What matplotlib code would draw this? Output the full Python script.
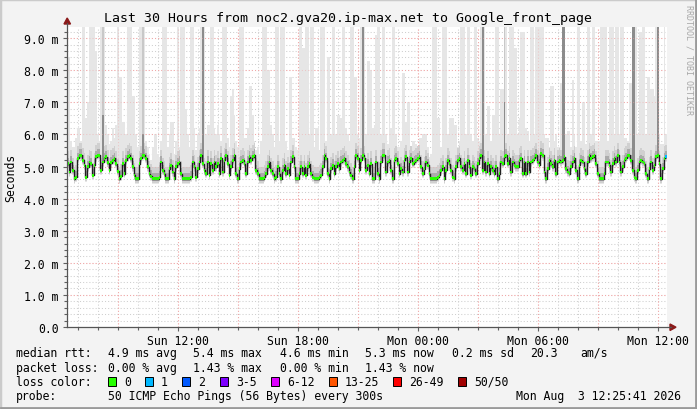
import numpy as np
import matplotlib
matplotlib.use("Agg")
import matplotlib.pyplot as plt
from matplotlib.patches import Rectangle, Polygon
from matplotlib.lines import Line2D

W, H = 697, 410
STEP_H = 5 / 60.0          # one rrd step = 300 s
START_H = 6.45             # Sun 06:27, hours after Sun 00:00
Y_TOP = 9.346

# median rtt per step (ms)
median_ms = [
    5.09, 4.83, 5.14, 4.88, 4.62, 4.67, 5.25, 5.35, 5.35, 5.19,
    5.04, 4.67, 4.99, 5.14, 5.09, 4.73, 5.04, 5.30, 5.35, 5.35,
    4.88, 5.14, 5.25, 5.30, 5.12, 4.88, 5.12, 5.19, 5.25, 5.09,
    4.85, 4.62, 4.70, 5.09, 4.78, 5.19, 5.30, 5.35, 5.25, 4.99,
    4.73, 4.62, 4.62, 5.09, 5.25, 5.35, 5.35, 5.25, 4.99, 4.78,
    4.70, 4.62, 4.62, 4.62, 4.62, 4.67, 5.14, 4.88, 4.78, 4.62,
    4.62, 4.93, 5.04, 4.83, 4.62, 4.99, 5.09, 5.14, 4.78, 4.62,
    4.62, 4.62, 4.62, 4.62, 4.67, 5.14, 4.99, 4.67, 4.93, 5.14,
    5.35, 5.09, 4.88, 4.78, 5.14, 4.73, 5.09, 4.88, 5.14, 4.99,
    5.09, 4.78, 5.25, 4.83, 5.19, 5.35, 5.09, 4.73, 4.99, 5.19,
    5.35, 4.78, 4.62, 4.93, 5.14, 5.19, 5.09, 4.78, 5.14, 5.30,
    5.19, 5.30, 5.35, 4.88, 4.78, 4.62, 4.62, 4.62, 4.67, 4.78,
    4.99, 5.14, 4.88, 4.78, 4.62, 4.67, 4.99, 4.78, 4.62, 4.88,
    5.04, 4.78, 4.93, 4.73, 5.14, 5.30, 4.99, 4.62, 4.62, 4.78,
    4.99, 4.78, 4.99, 4.73, 4.99, 5.09, 4.78, 4.67, 4.62, 4.62,
    4.62, 4.67, 4.73, 4.99, 5.35, 5.25, 4.78, 4.62, 4.93, 5.04,
    4.78, 4.99, 5.09, 4.93, 5.14, 5.19, 5.25, 5.09, 4.99, 4.83,
    4.73, 4.62, 4.99, 5.35, 5.25, 4.88, 5.19, 5.35, 5.25, 4.88,
    5.04, 4.78, 5.09, 4.62, 4.62, 5.14, 4.78, 4.62, 5.14, 5.35,
    5.35, 4.83, 5.14, 5.19, 4.88, 4.62, 5.19, 5.25, 5.09, 4.78,
    4.93, 4.83, 5.19, 5.30, 4.83, 5.14, 5.25, 5.09, 5.14, 5.19,
    5.25, 5.30, 4.99, 4.78, 4.93, 5.14, 5.04, 4.78, 4.62, 4.62,
    4.62, 4.62, 4.67, 4.73, 4.88, 4.99, 4.62, 4.88, 5.19, 5.09,
    4.88, 4.67, 4.62, 4.99, 5.19, 5.25, 4.99, 4.88, 5.09, 4.78,
    5.19, 4.99, 4.73, 4.99, 4.93, 4.78, 5.09, 5.25, 5.35, 4.88,
    5.14, 4.83, 5.09, 4.78, 4.99, 4.88, 4.78, 4.99, 4.62, 4.78,
    5.14, 5.09, 5.30, 5.35, 5.09, 5.25, 4.83, 5.14, 5.04, 4.99,
    4.99, 5.19, 5.25, 4.78, 5.14, 4.78, 5.14, 4.83, 5.14, 5.19,
    5.25, 5.35, 5.14, 5.04, 5.40, 5.35, 4.83, 4.62, 4.93, 5.19,
    5.09, 4.99, 5.19, 4.78, 5.14, 5.19, 5.14, 5.19, 5.30, 4.93,
    4.83, 4.78, 4.99, 5.14, 5.25, 4.88, 4.62, 5.04, 5.19, 5.14,
    4.93, 4.78, 5.14, 5.35, 5.25, 5.30, 5.35, 5.09, 4.78, 4.62,
    4.62, 4.62, 4.78, 5.14, 5.14, 5.04, 4.83, 5.09, 5.25, 5.14,
    5.35, 5.14, 4.83, 4.99, 5.19, 5.25, 5.35, 5.35, 5.19, 4.88,
    4.67, 4.62, 4.88, 5.14, 5.19, 5.14, 5.09, 4.78, 4.62, 4.93,
    5.14, 4.88, 5.04, 5.30, 5.35, 5.09, 4.62, 4.93, 5.25, 5.30,
]

# slowest ping per step (ms), 9.4 = above the top of the graph
smoke_top_ms = [
    8.4, 8.4, 5.8, 5.6, 5.6, 5.9, 6.2, 6.2, 5.8, 9.4,
    9.4, 6.5, 7.0, 9.4, 9.4, 9.4, 9.4, 8.6, 6.0, 5.8,
    9.4, 9.4, 9.4, 6.3, 6.0, 5.7, 5.8, 6.2, 5.9, 6.3,
    9.4, 7.8, 7.8, 6.4, 6.4, 6.0, 9.4, 9.4, 9.4, 7.2,
    7.2, 6.0, 5.6, 9.4, 9.4, 9.4, 9.4, 5.8, 5.6, 5.4,
    5.2, 5.6, 6.0, 6.0, 5.4, 5.3, 5.8, 9.4, 9.4, 9.4,
    5.6, 6.0, 6.4, 6.4, 5.4, 5.8, 9.4, 5.6, 9.4, 9.4,
    9.4, 6.8, 6.0, 5.6, 9.4, 9.4, 6.2, 5.5, 6.0, 6.2,
    9.4, 9.4, 9.4, 6.0, 6.3, 6.3, 9.4, 9.4, 6.2, 6.0,
    6.3, 6.0, 5.8, 9.4, 9.4, 9.4, 5.9, 5.6, 7.2, 7.4,
    6.6, 5.8, 5.6, 9.4, 9.4, 9.4, 5.9, 5.9, 6.2, 7.5,
    7.5, 6.6, 5.8, 5.5, 5.6, 5.4, 5.8, 9.4, 9.4, 9.4,
    8.0, 8.0, 6.3, 6.0, 5.6, 9.4, 9.4, 5.8, 9.4, 9.4,
    9.4, 5.8, 5.5, 7.8, 7.8, 5.9, 5.9, 5.6, 5.5, 9.4,
    9.4, 8.7, 8.7, 9.4, 9.4, 6.0, 9.4, 9.4, 5.6, 6.2,
    6.2, 5.5, 9.4, 9.4, 9.4, 5.8, 8.4, 8.4, 6.0, 9.4,
    9.4, 6.0, 6.6, 6.6, 6.5, 9.4, 9.4, 6.2, 6.0, 5.8,
    9.4, 9.4, 7.8, 7.8, 6.0, 5.9, 9.4, 9.4, 9.4, 6.0,
    8.3, 8.3, 8.0, 6.2, 6.3, 9.1, 9.4, 9.4, 6.0, 9.4,
    9.4, 6.0, 5.7, 7.4, 6.2, 9.4, 9.4, 6.0, 5.6, 5.6,
    5.8, 7.9, 7.9, 6.4, 7.0, 7.0, 5.6, 5.8, 5.8, 5.7,
    5.6, 5.9, 5.9, 6.0, 6.0, 6.0, 5.6, 5.3, 5.4, 9.4,
    9.4, 9.4, 6.5, 6.5, 5.6, 9.4, 9.4, 9.4, 6.0, 6.5,
    6.5, 6.5, 6.3, 6.3, 5.6, 5.8, 9.4, 9.4, 9.4, 6.0,
    9.4, 9.4, 6.0, 5.8, 9.4, 9.4, 5.9, 5.8, 9.4, 9.4,
    9.4, 6.0, 6.9, 6.9, 5.8, 6.6, 6.6, 9.4, 9.4, 6.0,
    7.4, 7.4, 9.4, 9.4, 6.0, 9.4, 9.4, 9.4, 8.7, 8.7,
    6.0, 6.5, 9.2, 9.2, 9.2, 6.2, 6.1, 5.8, 9.4, 9.4,
    6.0, 9.4, 9.4, 9.4, 9.4, 9.4, 6.0, 5.9, 5.9, 5.6,
    7.5, 7.5, 5.8, 6.0, 5.6, 5.6, 7.6, 9.4, 9.4, 6.0,
    6.1, 6.1, 5.6, 7.7, 6.0, 5.6, 9.4, 9.4, 5.8, 7.0,
    7.0, 5.7, 9.4, 9.4, 6.0, 9.4, 9.4, 5.8, 5.8, 5.8,
    9.4, 9.4, 9.4, 9.4, 5.8, 9.4, 9.4, 9.4, 6.0, 9.4,
    9.4, 6.0, 9.4, 9.4, 5.9, 5.9, 5.8, 7.6, 7.6, 7.6,
    5.8, 9.4, 6.0, 9.2, 9.2, 9.4, 9.4, 6.0, 7.8, 7.8,
    7.4, 7.4, 7.2, 9.4, 9.4, 6.0, 5.7, 5.7, 9.4, 6.0,
]

# steps where many pings were slow (dark streaks) and how high they reach
dark_steps = [21, 45, 81, 177, 249, 262, 297, 298, 339, 340, 354]
dark_top_ms = [6.6, 6.0, 9.4, 9.4, 9.4, 7.0, 9.4, 9.4, 9.4, 9.4, 9.4]

# lost pings (out of 50) for the steps that had any
loss_steps = {359: 1}

loss_labels = ["0", "1", "2", "3-5", "6-12", "13-25", "26-49", "50/50"]
loss_colors = ["#26ff00", "#00b8ff", "#0059ff", "#7e00ff", "#dd00ff",
               "#ff5500", "#ff0000", "#a10000"]

tick_hours = [12, 18, 24, 30, 36]
tick_labels = ["Sun 12:00", "Sun 18:00", "Mon 00:00", "Mon 06:00", "Mon 12:00"]
y_ticks = [0, 1, 2, 3, 4, 5, 6, 7, 8, 9]
y_tick_labels = ["0.0"] + ["%d.0 m" % v for v in y_ticks[1:]]

MONO = "DejaVu Sans Mono"
FS = 8.3


def fx(x):
    return x / W


def fy(y):
    return 1 - y / H


fig = plt.figure(figsize=(W / 100, H / 100), dpi=100)
fig.patch.set_facecolor("#f3f3f3")
ax = fig.add_axes([fx(67), fy(328), 600 / W, 300 / H])
ax.set_facecolor("white")

n = len(median_ms)
t = START_H + np.arange(n) * STEP_H
med = np.array(median_ms)
top = np.maximum(np.array(smoke_top_ms), med + 0.3)

# smoke
ax.bar(t, top - (med - 0.15), bottom=med - 0.15, width=STEP_H, align="edge",
       color="#e6e6e6", linewidth=0, zorder=2)
ax.bar(t, 0.5, bottom=med - 0.12, width=STEP_H, align="edge",
       color="#d0d0d0", linewidth=0, zorder=3)
ax.bar(t, 0.25, bottom=med - 0.07, width=STEP_H, align="edge",
       color="#ababab", linewidth=0, zorder=3)
d_t = t[dark_steps]
d_med = med[dark_steps]
d_top = np.array(dark_top_ms)
ax.bar(d_t, Y_TOP + 1 - d_med, bottom=d_med, width=STEP_H, align="edge",
       color="#c8c8c8", linewidth=0, zorder=3)
ax.bar(d_t, d_top - d_med, bottom=d_med, width=STEP_H,
       align="edge", color="#8c8c8c", linewidth=0, zorder=3)

# grid
minor_y = [v / 5 for v in range(1, 47) if v % 5]
hours = np.arange(7, 37)
ax.hlines(minor_y, START_H, START_H + 30, colors="#cfcfcf", lw=0.75,
          linestyles=(0, (1, 2)), zorder=1)
ax.vlines([h for h in hours if h % 3], 0, Y_TOP, colors="#cfcfcf", lw=0.75,
          linestyles=(0, (1, 2)), zorder=1)
for z, a in ((1, 1.0), (4, 0.5)):
    ax.hlines(y_ticks[1:], START_H, START_H + 30, colors="#f0a8a8", lw=0.75,
              linestyles=(0, (1, 2)), zorder=z, alpha=a)
    ax.vlines([h for h in hours if h % 3 == 0], 0, Y_TOP, colors="#f0a8a8",
              lw=0.75, linestyles=(0, (1, 2)), zorder=z, alpha=a)

# median line + loss coloured boxes
edges = np.append(t, t[-1] + STEP_H)
ax.step(edges, np.append(med, med[-1]), where="post", color="#202020",
        lw=1.0, zorder=5)
box_cols = [loss_colors[loss_steps.get(i, 0)] for i in range(n)]
ax.bar(t, 0.09, bottom=med - 0.045, width=STEP_H, align="edge",
       color=box_cols, linewidth=0, zorder=6)

ax.set_xlim(START_H, START_H + 30)
ax.set_ylim(0, Y_TOP)
for s in ax.spines.values():
    s.set_visible(False)

ax.set_yticks(y_ticks)
ax.set_yticklabels(y_tick_labels, fontfamily=MONO, fontsize=FS)
ax.set_yticks(minor_y, minor=True)
ax.set_xticks(tick_hours)
ax.set_xticklabels(tick_labels, fontfamily=MONO, fontsize=FS)
ax.set_xticks(list(hours), minor=True)
ax.tick_params(axis="both", which="major", length=3, width=0.8,
               color="#606060", labelcolor="black")
ax.tick_params(axis="both", which="minor", length=2, width=0.8,
               color="#606060")
ax.tick_params(axis="y", which="major", pad=3)
ax.tick_params(axis="x", which="major", pad=2)

# axes with arrows
AX_COL = "#555555"
fig.add_artist(Line2D([fx(67), fx(67)], [fy(328), fy(24)], color=AX_COL, lw=0.9))
fig.add_artist(Line2D([fx(67), fx(671)], [fy(328), fy(328)], color=AX_COL, lw=0.9))
fig.add_artist(Polygon([(fx(64), fy(25)), (fx(70.5), fy(25)), (fx(67.2), fy(19))],
                       closed=True, color="#8b1a1a"))
fig.add_artist(Polygon([(fx(670), fy(325)), (fx(670), fy(331.5)), (fx(676), fy(328.2))],
                       closed=True, color="#8b1a1a"))

# texts
fig.text(fx(348), fy(18.5), "Last 30 Hours from noc2.gva20.ip-max.net to Google_front_page",
         fontfamily=MONO, fontsize=9.5, ha="center", va="center")
fig.text(fx(11), fy(178), "Seconds", fontfamily=MONO, fontsize=FS,
         rotation=90, ha="center", va="center")
fig.text(fx(689), fy(60), "RRDTOOL / TOBI OETIKER", fontfamily=MONO, fontsize=6,
         rotation=-90, ha="center", va="center", color="#a8a8a8")

rows = [
    (353.5, [(16, "median rtt:"), (108, "4.9 ms avg"), (193, "5.4 ms max"),
             (280, "4.6 ms min"), (365, "5.3 ms now"), (452, "0.2 ms sd"),
             (530, "20.3"), (580, "am/s")]),
    (368.5, [(16, "packet loss:"), (108, "0.00 % avg"), (193, "1.43 % max"),
             (280, "0.00 % min"), (365, "1.43 % now")]),
    (382.5, [(16, "loss color:")]),
    (397, [(16, "probe:"), (108, "50 ICMP Echo Pings (56 Bytes) every 300s")]),
]
for y, items in rows:
    for x, s in items:
        fig.text(fx(x), fy(y), s, fontfamily=MONO, fontsize=FS, ha="left", va="center")
fig.text(fx(681), fy(397), "Mon Aug  3 12:25:41 2026", fontfamily=MONO,
         fontsize=FS, ha="right", va="center")

box_x = [108, 145, 182, 220, 271, 329, 393, 458]
for bx, lab, col in zip(box_x, loss_labels, loss_colors):
    fig.add_artist(Rectangle((fx(bx), fy(387)), 8 / W, 9 / H, facecolor=col,
                             edgecolor="black", lw=0.7))
    fig.text(fx(bx + 16), fy(382.5), lab, fontfamily=MONO, fontsize=FS,
             ha="left", va="center")

# 3d frame
fig.add_artist(Rectangle((0, 0), 1, 1, fill=False, edgecolor="#cbcbcb", lw=2.5))
fig.add_artist(Line2D([fx(1), fx(696)], [fy(409), fy(409)], color="#9a9a9a", lw=2))
fig.add_artist(Line2D([fx(696), fx(696)], [fy(0), fy(409)], color="#9a9a9a", lw=2))

fig.savefig("out.png", dpi=100, facecolor=fig.get_facecolor())
